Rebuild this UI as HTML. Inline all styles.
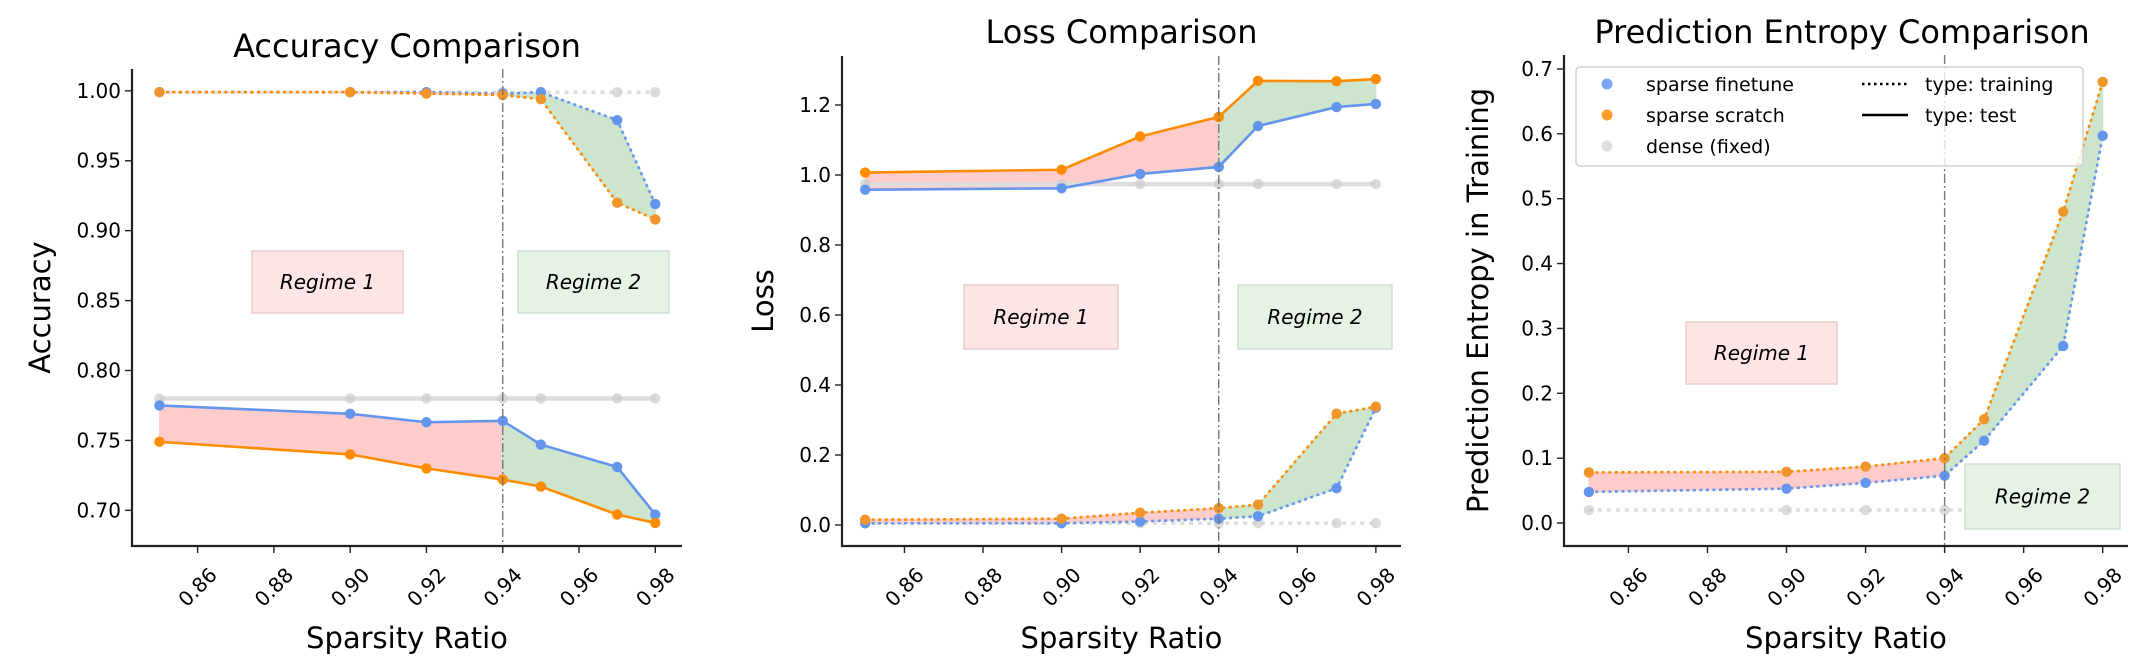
<!DOCTYPE html>
<html><head><meta charset="utf-8"><style>
html,body{margin:0;padding:0;background:#fff;}
svg{display:block;font-family:"DejaVu Sans","Liberation Sans",sans-serif;}
</style></head><body>
<svg id="chart" width="2150" height="672" viewBox="0 0 2150 672" xmlns="http://www.w3.org/2000/svg"></svg>
<script>
const sparsity = [0.85, 0.90, 0.92, 0.94, 0.95, 0.97, 0.98];
const xTicks = [0.86, 0.88, 0.90, 0.92, 0.94, 0.96, 0.98];
const xTickLabels = ["0.86","0.88","0.90","0.92","0.94","0.96","0.98"];
// Accuracy
const accTestFinetune = [0.775, 0.769, 0.763, 0.764, 0.747, 0.731, 0.697];
const accTestScratch = [0.749, 0.740, 0.730, 0.722, 0.717, 0.697, 0.691];
const accTestDense = [0.780, 0.780, 0.780, 0.780, 0.780, 0.780, 0.780];
const accTrainFinetune = [0.999, 0.999, 0.999, 0.998, 0.999, 0.979, 0.919];
const accTrainScratch = [0.999, 0.999, 0.998, 0.997, 0.994, 0.920, 0.908];
const accTrainDense = [0.999, 0.999, 0.999, 0.999, 0.999, 0.999, 0.999];
const accYTicks = [0.70, 0.75, 0.80, 0.85, 0.90, 0.95, 1.00];
const accYTickLabels = ["0.70","0.75","0.80","0.85","0.90","0.95","1.00"];
// Loss
const lossTestFinetune = [0.958, 0.962, 1.003, 1.023, 1.140, 1.194, 1.203];
const lossTestScratch = [1.007, 1.015, 1.110, 1.166, 1.269, 1.268, 1.274];
const lossTestDense = [0.974, 0.974, 0.974, 0.974, 0.974, 0.974, 0.974];
const lossTrainFinetune = [0.005, 0.005, 0.010, 0.018, 0.025, 0.105, 0.335];
const lossTrainScratch = [0.015, 0.018, 0.035, 0.048, 0.058, 0.318, 0.338];
const lossTrainDense = [0.005, 0.005, 0.005, 0.005, 0.005, 0.005, 0.005];
const lossYTicks = [0.0, 0.2, 0.4, 0.6, 0.8, 1.0, 1.2];
const lossYTickLabels = ["0.0","0.2","0.4","0.6","0.8","1.0","1.2"];
// Entropy
const entTrainFinetune = [0.048, 0.053, 0.062, 0.073, 0.127, 0.273, 0.597];
const entTrainScratch = [0.078, 0.079, 0.087, 0.100, 0.160, 0.480, 0.680];
const entTrainDense = [0.020, 0.020, 0.020, 0.020, 0.020, 0.020, 0.020];
const entYTicks = [0.0, 0.1, 0.2, 0.3, 0.4, 0.5, 0.6, 0.7];
const entYTickLabels = ["0.0","0.1","0.2","0.3","0.4","0.5","0.6","0.7"];
const regimeSplit = 0.94;

const NS = "http://www.w3.org/2000/svg";
const svg = document.getElementById('chart');
function mk(tag, attrs, parent){const e=document.createElementNS(NS,tag);for(const k in attrs)e.setAttribute(k,attrs[k]);(parent||svg).appendChild(e);return e;}
const BLUE="#6495ED", ORANGE="#FF8C00";

function panel(cfg){
  const g = mk('g',{});
  
  
  const sx = v => cfg.L + (v - cfg.x0)/(cfg.x1-cfg.x0)*(cfg.R-cfg.L);
  const sy = v => cfg.B - (v - cfg.y0)/(cfg.y1-cfg.y0)*(cfg.B-cfg.T);
  cfg.pairs.forEach(p=>{
    const redIdx = sparsity.map((s,i)=>i).filter(i=>sparsity[i]<=regimeSplit);
    const grnIdx = sparsity.map((s,i)=>i).filter(i=>sparsity[i]>=regimeSplit);
    [[redIdx,'#ffcccc'],[grnIdx,'#cce5cc']].forEach(([idx,col])=>{
      let pts = idx.map(i=>sx(sparsity[i])+','+sy(p.a[i]));
      pts = pts.concat(idx.slice().reverse().map(i=>sx(sparsity[i])+','+sy(p.b[i])));
      const f = mk('polygon',{points:pts.join(' '),fill:col,stroke:col,'stroke-width':1},g);
      
      
    });
  });
  cfg.series.forEach(s=>{
    const pts = sparsity.map((x,i)=>sx(x)+','+sy(s.v[i])).join(' ');
    const attrs = {points:pts,fill:'none',stroke:s.c,'stroke-width':s.w||2.6,'stroke-opacity':s.op||1};
    if(s.dot) attrs['stroke-dasharray'] = s.dense ? '4,5' : '3,3.5';
    const l = mk('polyline',attrs,g);
    
    
    sparsity.forEach((x,i)=>{
      const c = mk('circle',{cx:sx(x),cy:sy(s.v[i]),r:5.2,fill:s.mc||s.c,'fill-opacity':s.mop||1},g);
      
      
    });
  });
  const vl = mk('line',{x1:sx(regimeSplit),x2:sx(regimeSplit),y1:cfg.T,y2:cfg.B,stroke:'#777','stroke-width':1.4,'stroke-dasharray':'9,3,2,3'},g);
  
  
  cfg.boxes.forEach(b=>{
    const r = mk('rect',{x:b.x,y:b.y,width:b.w,height:b.h,fill:b.fill,stroke:b.stroke,'stroke-width':1.5},g);
    
    
    const t = mk('text',{x:b.x+b.w/2,y:b.y+b.h/2+7,'text-anchor':'middle','font-size':20,'font-style':'italic',fill:'#000'},g);
    t.textContent = b.label;
    
    
  });
  const ax = mk('path',{d:`M${cfg.L},${cfg.T} L${cfg.L},${cfg.B} L${cfg.R},${cfg.B}`,fill:'none',stroke:'#222','stroke-width':2.2},g);
  
  
  xTicks.forEach((v,i)=>{
    const x = sx(v);
    mk('line',{x1:x,x2:x,y1:cfg.B,y2:cfg.B+7,stroke:'#222','stroke-width':1.4},g);
    const cy = 587;
    const t = mk('text',{x:x,y:cy+7,'text-anchor':'middle','font-size':20,transform:`rotate(-45 ${x} ${cy})`},g);
    t.textContent = xTickLabels[i];
    
    
  });
  cfg.yt.forEach((v,i)=>{
    const y = sy(v);
    mk('line',{x1:cfg.L-7,x2:cfg.L,y1:y,y2:y,stroke:'#222','stroke-width':1.4},g);
    const t = mk('text',{x:cfg.L-11,y:y+7,'text-anchor':'end','font-size':20},g);
    t.textContent = cfg.ytl[i];
    
    
  });
  const cx = (cfg.L+cfg.R)/2;
  const xt = mk('text',{x:cx,y:648,'text-anchor':'middle','font-size':29},g);
  xt.textContent='Sparsity Ratio';
  
  
  const ycy=(cfg.T+cfg.B)/2;
  const yt = mk('text',{x:cfg.ylx,y:ycy,'text-anchor':'middle','font-size':29,transform:`rotate(-90 ${cfg.ylx} ${ycy})`},g);
  yt.textContent=cfg.ylabel;
  
  
  const tt = mk('text',{x:cfg.tx||cx,y:cfg.tby,'text-anchor':'middle','font-size':32},g);
  tt.textContent=cfg.title;
  
  
}
const pinkBox='#fde5e6', pinkStroke='#e8cccc', greenBox='#e5f2e5', greenStroke='#cfe0cf';
function stdSeries(tf,ts,td,trf,trs,trd){
  const s=[];
  if(trd) s.push({name:'dense-train',v:trd,c:'#dddddd',w:3.5,dot:true,dense:true,mc:'#cccccc',mop:0.7});
  if(td) s.push({name:'dense-test',v:td,c:'#dddddd',w:4.5,mc:'#cccccc',mop:0.7});
  if(trf) s.push({name:'finetune-train',v:trf,c:BLUE,dot:true});
  if(trs) s.push({name:'scratch-train',v:trs,c:ORANGE,dot:true,mc:'#F0952A'});
  if(tf) s.push({name:'finetune-test',v:tf,c:BLUE});
  if(ts) s.push({name:'scratch-test',v:ts,c:ORANGE});
  return s;
}
panel({name:'accuracy-panel',L:132,R:682,T:69,B:546,x0:0.8428,x1:0.987,y0:0.6745,y1:1.0156,
  yt:accYTicks,ytl:accYTickLabels,ylabel:'Accuracy',ylx:50,title:'Accuracy Comparison',tby:57,
  pairs:[{a:accTestFinetune,b:accTestScratch},{a:accTrainFinetune,b:accTrainScratch}],
  series:stdSeries(accTestFinetune,accTestScratch,accTestDense,accTrainFinetune,accTrainScratch,accTrainDense),
  boxes:[{name:'regime1',x:252,y:251,w:151,h:62,fill:pinkBox,stroke:pinkStroke,label:'Regime 1'},
         {name:'regime2',x:518,y:251,w:151,h:62,fill:greenBox,stroke:greenStroke,label:'Regime 2'}]});
panel({name:'loss-panel',L:842,R:1401,T:56,B:546,x0:0.8441,x1:0.9864,y0:-0.0600,y1:1.34,
  yt:lossYTicks,ytl:lossYTickLabels,ylabel:'Loss',ylx:773,title:'Loss Comparison',tby:43,
  pairs:[{a:lossTestFinetune,b:lossTestScratch},{a:lossTrainFinetune,b:lossTrainScratch}],
  series:stdSeries(lossTestFinetune,lossTestScratch,lossTestDense,lossTrainFinetune,lossTrainScratch,lossTrainDense),
  boxes:[{name:'regime1',x:964,y:285,w:154,h:64,fill:pinkBox,stroke:pinkStroke,label:'Regime 1'},
         {name:'regime2',x:1238,y:285,w:154,h:64,fill:greenBox,stroke:greenStroke,label:'Regime 2'}]});
panel({name:'entropy-panel',L:1564,R:2128,T:55,B:546,x0:0.8437,x1:0.9864,y0:-0.0354,y1:0.7215,
  yt:entYTicks,ytl:entYTickLabels,ylabel:'Prediction Entropy in Training',ylx:1488,title:'Prediction Entropy Comparison',tx:1842,tby:43,
  pairs:[{a:entTrainFinetune,b:entTrainScratch}],
  series:stdSeries(null,null,null,entTrainFinetune,entTrainScratch,entTrainDense),
  boxes:[{name:'regime1',x:1686,y:322,w:151,h:62,fill:pinkBox,stroke:pinkStroke,label:'Regime 1'},
         {name:'regime2',x:1965,y:464,w:155,h:65,fill:greenBox,stroke:greenStroke,label:'Regime 2'}]});
const lg = mk('g',{});


mk('rect',{x:1576,y:67,width:507,height:99,rx:4,fill:'#fff','fill-opacity':0.8,stroke:'#d0d0d0','stroke-width':1.5},lg);
const legItems=[['sparse finetune',BLUE,84],['sparse scratch',ORANGE,115],['dense (fixed)','#d8d8d8',146]];
legItems.forEach(([t,c,y])=>{
  const e=mk('g',{},lg);
  
  
  mk('circle',{cx:1607,cy:y,r:5.5,fill:c,'fill-opacity':0.85},e);
  const tx=mk('text',{x:1646,y:y+7,'font-size':19},e);tx.textContent=t;
});
[['type: training',84,true],['type: test',115,false]].forEach(([t,y,d])=>{
  const e=mk('g',{},lg);
  
  
  const a={x1:1862,x2:1908,y1:y,y2:y,stroke:'#000','stroke-width':2.4};
  if(d)a['stroke-dasharray']='2.5,3.5';
  mk('line',a,e);
  const tx=mk('text',{x:1925,y:y+7,'font-size':19},e);tx.textContent=t;
});
</script>
</body></html>
